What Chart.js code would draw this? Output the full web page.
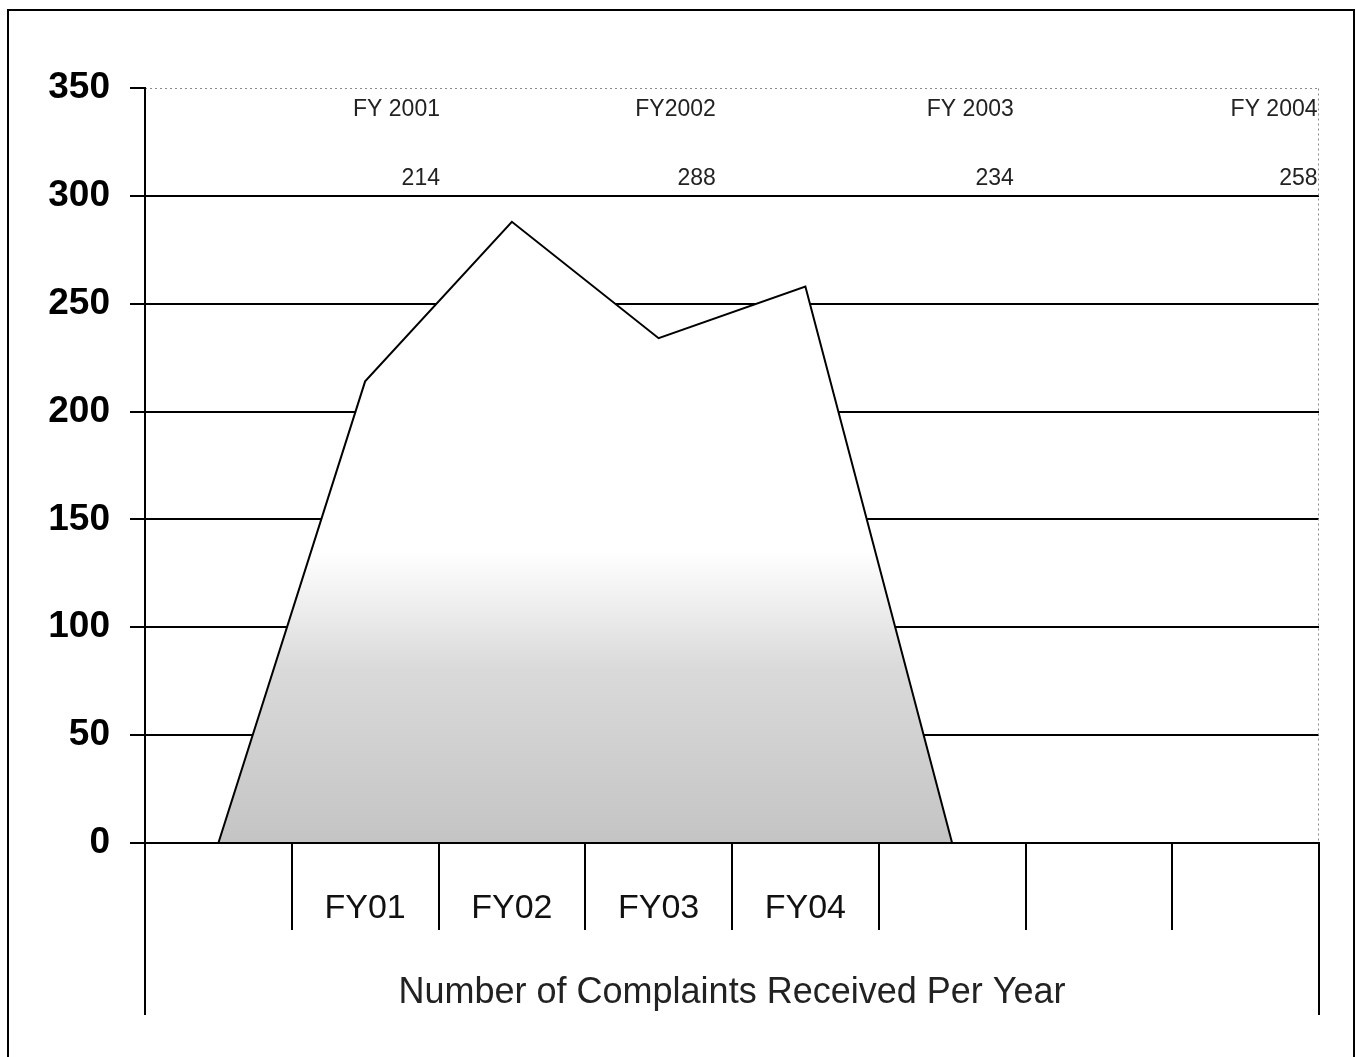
<!DOCTYPE html>
<html>
<head>
<meta charset="utf-8">
<script src="https://cdn.jsdelivr.net/npm/chart.js@4"></script>
<style>
  html, body { margin: 0; padding: 0; background: #fff; }
  canvas { display: block; }
</style>
</head>
<body>
<canvas id="c" width="1356" height="1057"></canvas>
<script>
// ---- data ----
const categories = ['', 'FY01', 'FY02', 'FY03', 'FY04', '', '', ''];
const complaints = [0, 214, 288, 234, 258, 0, null, null];
const yTicks = [0, 50, 100, 150, 200, 250, 300, 350];
const tableYears = ['FY 2001', 'FY2002', 'FY 2003', 'FY 2004'];
const tableCounts = ['214', '288', '234', '258'];
const axisTitle = 'Number of Complaints Received Per Year';

// ---- layout of the pasted table (category units / value units) ----
const tableColumns = [1.51, 3.39, 5.42, 7.49];
const tableYearRow = 340;
const tableCountRow = 308;

const FONT = '"Liberation Sans", Arial, sans-serif';

const decorations = {
  id: 'decorations',
  beforeDraw(chart) {
    const ctx = chart.ctx;
    ctx.save();
    ctx.fillStyle = '#fff';
    ctx.fillRect(0, 0, chart.width, chart.height);
    ctx.strokeStyle = '#000';
    ctx.lineWidth = 2;
    ctx.beginPath();
    ctx.moveTo(8, 1060);
    ctx.lineTo(8, 10);
    ctx.lineTo(1354, 10);
    ctx.lineTo(1354, 1060);
    ctx.stroke();
    ctx.restore();
  },
  afterDatasetsDraw(chart) {
    const ctx = chart.ctx;
    const ca = chart.chartArea;
    const y = chart.scales.y;
    ctx.save();
    // dotted top (350) line and right edge
    ctx.strokeStyle = '#8a8a8a';
    ctx.lineWidth = 1;
    ctx.setLineDash([2, 3]);
    ctx.beginPath();
    const yTop = Math.round(y.getPixelForValue(350)) + 0.5;
    ctx.moveTo(ca.left, yTop);
    ctx.lineTo(ca.right, yTop);
    ctx.moveTo(ca.right - 0.5, yTop);
    ctx.lineTo(ca.right - 0.5, ca.bottom);
    ctx.stroke();
    ctx.setLineDash([]);
    // extended outer verticals below the axis
    ctx.strokeStyle = '#000';
    ctx.lineWidth = 2;
    ctx.beginPath();
    ctx.moveTo(ca.left, ca.bottom);
    ctx.lineTo(ca.left, 1015);
    ctx.moveTo(ca.right, ca.bottom);
    ctx.lineTo(ca.right, 1015);
    ctx.stroke();
    // pasted table text
    const x = chart.scales.x;
    ctx.fillStyle = '#222';
    ctx.font = '23px ' + FONT;
    ctx.textAlign = 'right';
    ctx.textBaseline = 'middle';
    tableYears.forEach((t, i) => {
      ctx.fillText(t, x.getPixelForValue(tableColumns[i]), y.getPixelForValue(tableYearRow));
      ctx.fillText(tableCounts[i], x.getPixelForValue(tableColumns[i]), y.getPixelForValue(tableCountRow));
    });
    ctx.restore();
  }
};

function areaFill(context) {
  const chart = context.chart;
  const y = chart.scales.y;
  if (!chart.chartArea || !y) return '#cccccc';
  const g = chart.ctx.createLinearGradient(0, y.getPixelForValue(135), 0, y.getPixelForValue(0));
  g.addColorStop(0, '#ffffff');
  g.addColorStop(0.15, '#f1f1f1');
  g.addColorStop(0.4, '#dadada');
  g.addColorStop(1, '#c4c4c4');
  return g;
}

new Chart(document.getElementById('c'), {
  type: 'line',
  data: {
    labels: categories,
    datasets: [{
      data: complaints,
      fill: 'origin',
      backgroundColor: areaFill,
      borderColor: '#000',
      borderWidth: 2,
      pointRadius: 0,
      tension: 0,
      spanGaps: false
    }]
  },
  options: {
    responsive: false,
    animation: false,
    devicePixelRatio: 1,
    layout: { padding: { top: 88, right: 37, left: 0, bottom: 0 } },
    plugins: { legend: { display: false }, tooltip: { enabled: false }, title: { display: false } },
    scales: {
      x: {
        type: 'category',
        offset: true,
        afterFit(s) { s.height = 214; },
        grid: {
          display: true,
          offset: true,
          drawOnChartArea: false,
          drawTicks: true,
          tickLength: 87,
          color: '#000',
          lineWidth: 2
        },
        border: { display: true, color: '#000', width: 2, z: 1 },
        ticks: {
          autoSkip: false,
          maxRotation: 0,
          padding: -42,
          color: '#111',
          font: { family: FONT, size: 34 }
        },
        title: {
          display: true,
          text: axisTitle,
          color: '#222',
          font: { family: FONT, size: 36 },
          padding: { top: 0, bottom: 42 }
        }
      },
      y: {
        min: 0,
        max: 350,
        afterFit(s) { s.width = 145; },
        afterBuildTicks(s) { s.ticks = yTicks.map(v => ({ value: v })); },
        grid: {
          color: (c) => (c.tick && c.tick.value === 350 ? 'rgba(0,0,0,0)' : '#000'),
          lineWidth: 2,
          tickLength: 15,
          tickColor: '#000',
          drawTicks: true
        },
        border: { display: true, color: '#000', width: 2, z: 1 },
        ticks: {
          padding: 20,
          color: '#000',
          font: { family: FONT, size: 37, weight: 'bold' }
        }
      }
    }
  },
  plugins: [decorations]
});
</script>
</body>
</html>
